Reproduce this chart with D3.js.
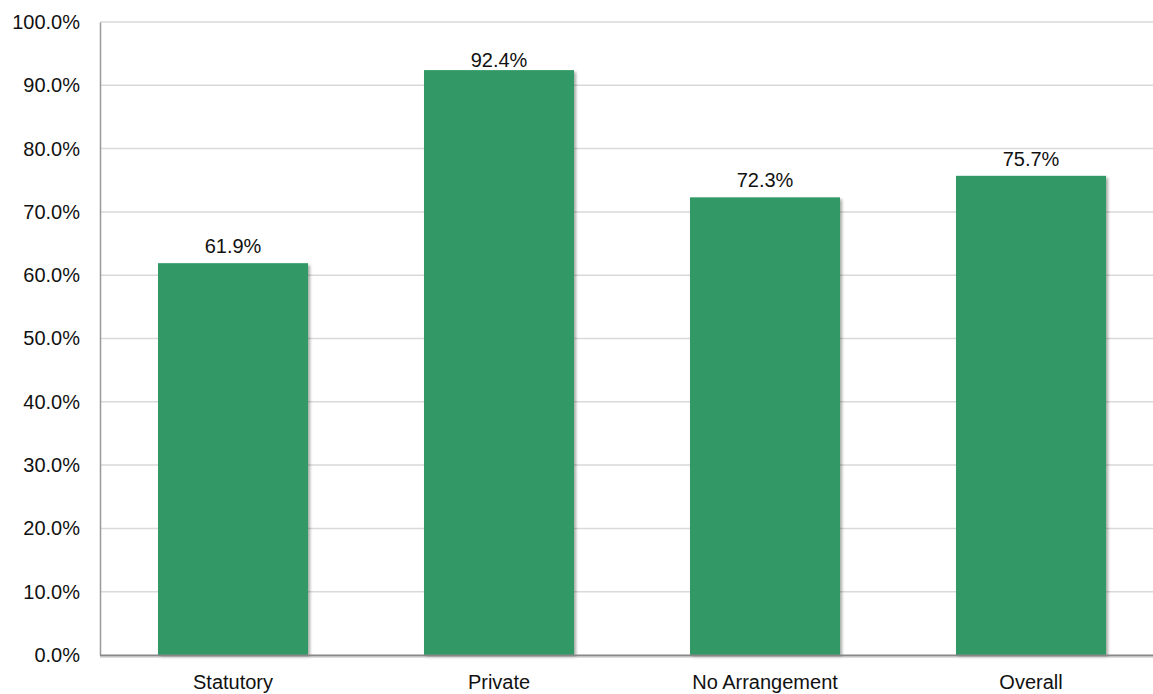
<!DOCTYPE html>
<html>
<head>
<meta charset="utf-8">
<script src="https://cdn.jsdelivr.net/npm/d3@7/dist/d3.min.js"></script>
<style>
  html, body { margin: 0; padding: 0; background: #fff; }
  svg { display: block; font-family: "Liberation Sans", Arial, sans-serif; }
</style>
</head>
<body>
<svg id="chart" width="1153" height="694"></svg>
<script>
const categories = ["Statutory", "Private", "No Arrangement", "Overall"];
const values = [61.9, 92.4, 72.3, 75.7];
const yTicks = [0, 10, 20, 30, 40, 50, 60, 70, 80, 90, 100];

const width = 1153, height = 694;
const margin = { top: 22, left: 100, bottom: 39 };
const plotBottom = height - margin.bottom; // 655

const svg = d3.select("#chart");

const defs = svg.append("defs");
const shadow = defs.append("filter").attr("id", "barShadow")
  .attr("x", "-10%").attr("y", "-10%").attr("width", "130%").attr("height", "130%");
shadow.append("feGaussianBlur").attr("in", "SourceAlpha").attr("stdDeviation", 1.6).attr("result", "blur");
shadow.append("feOffset").attr("in", "blur").attr("dx", 2).attr("dy", 2).attr("result", "off");
shadow.append("feComponentTransfer").attr("in", "off").attr("result", "soft")
  .append("feFuncA").attr("type", "linear").attr("slope", 0.35);
const merge = shadow.append("feMerge");
merge.append("feMergeNode").attr("in", "soft");
merge.append("feMergeNode").attr("in", "SourceGraphic");

const x = d3.scaleBand()
  .domain(categories)
  .range([margin.left, margin.left + 266 * categories.length])
  .paddingInner(0.436)
  .paddingOuter(0.218);

const y = d3.scaleLinear().domain([0, 100]).range([plotBottom, margin.top]);

// horizontal gridlines
svg.append("g")
  .selectAll("line")
  .data(yTicks.filter(t => t > 0))
  .join("line")
  .attr("x1", margin.left).attr("x2", width)
  .attr("y1", d => y(d)).attr("y2", d => y(d))
  .attr("stroke", "#d9d9d9").attr("stroke-width", 1.5);

// y axis
const yAxis = svg.append("g")
  .attr("transform", `translate(${margin.left},0)`)
  .call(d3.axisLeft(y).tickValues(yTicks).tickSize(0).tickPadding(20)
    .tickFormat(d => d3.format(".1f")(d) + "%"));
yAxis.select(".domain").attr("stroke", "#999").attr("stroke-width", 1.5);
yAxis.selectAll("text").attr("font-size", 20).attr("fill", "#111")
  .attr("font-family", "Liberation Sans, Arial, sans-serif");

// bars
svg.append("g")
  .selectAll("rect")
  .data(categories)
  .join("rect")
  .attr("x", d => x(d))
  .attr("width", x.bandwidth())
  .attr("y", (d, i) => y(values[i]))
  .attr("height", (d, i) => plotBottom - y(values[i]))
  .attr("fill", "#339966")
  .attr("filter", "url(#barShadow)");

// value labels
svg.append("g")
  .selectAll("text")
  .data(categories)
  .join("text")
  .attr("x", d => x(d) + x.bandwidth() / 2)
  .attr("y", (d, i) => Math.max(y(values[i]) - 10, 67))
  .attr("text-anchor", "middle")
  .attr("font-size", 20)
  .attr("fill", "#111")
  .text((d, i) => d3.format(".1f")(values[i]) + "%");

// x axis
const xAxis = svg.append("g")
  .attr("transform", `translate(0,${plotBottom})`)
  .call(d3.axisBottom(x).tickSize(0).tickPadding(20));
xAxis.select(".domain").remove();
xAxis.append("line")
  .attr("x1", margin.left).attr("x2", width)
  .attr("y1", 0.5).attr("y2", 0.5)
  .attr("stroke", "#888").attr("stroke-width", 2);
xAxis.append("line")
  .attr("x1", margin.left).attr("x2", width)
  .attr("y1", 2.5).attr("y2", 2.5)
  .attr("stroke", "#ddd").attr("stroke-width", 1);
xAxis.selectAll("text").attr("font-size", 20).attr("fill", "#111")
  .attr("font-family", "Liberation Sans, Arial, sans-serif");
</script>
</body>
</html>
